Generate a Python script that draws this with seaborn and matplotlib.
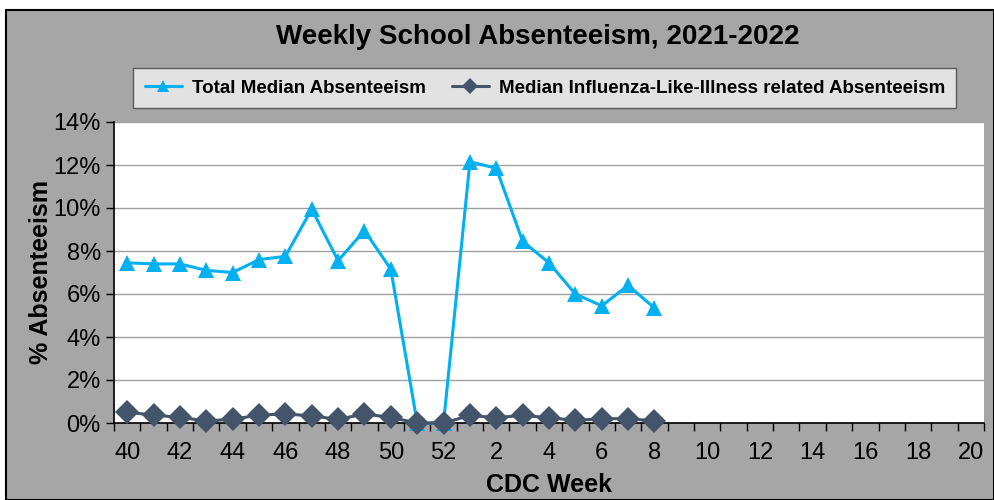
import numpy as np
import pandas as pd
import matplotlib
matplotlib.use("Agg")
import matplotlib.pyplot as plt
import seaborn as sns
from matplotlib.patches import Rectangle
from matplotlib.ticker import FixedLocator, PercentFormatter

# CDC weeks on the axis (season runs 40..52 then 1..20)
weeks = list(range(40, 53)) + list(range(1, 21))

# weeks that have data
data_weeks = list(range(40, 53)) + list(range(1, 9))
total_absent = [7.45, 7.4, 7.4, 7.1, 7.0, 7.6, 7.75, 9.95, 7.55, 8.95, 7.15,
                0.0, 0.0, 12.15, 11.85, 8.45, 7.45, 6.0, 5.45, 6.4, 5.35]
ili_absent = [0.5, 0.37, 0.26, 0.1, 0.17, 0.37, 0.42, 0.33, 0.17, 0.42, 0.26,
              0.0, 0.0, 0.35, 0.25, 0.35, 0.25, 0.12, 0.2, 0.2, 0.1]

series_names = ["Total Median Absenteeism",
                "Median Influenza-Like-Illness related Absenteeism"]

TOTAL_C = "#00B0F0"
ILI_C = "#44546A"
BG = "#A6A6A6"

pos = {w: i for i, w in enumerate(weeks)}
df = pd.DataFrame({
    "pos": [pos[w] for w in data_weeks] * 2,
    "value": total_absent + ili_absent,
    "series": [series_names[0]] * len(data_weeks) + [series_names[1]] * len(data_weeks),
})

sns.set_theme(style="white")
plt.rcParams["font.family"] = ["Liberation Sans", "DejaVu Sans"]
for key in ["text.color", "axes.labelcolor", "xtick.color", "ytick.color"]:
    plt.rcParams[key] = "black"

fig = plt.figure(figsize=(9.94, 5.0), dpi=100)
fig.patch.set_facecolor("white")
fig.patches.append(Rectangle((6 / 994, 0), 1 - 6 / 994, 1 - 10 / 500,
                             transform=fig.transFigure, facecolor=BG,
                             edgecolor="black", linewidth=1.5, zorder=-1))

ax = fig.add_axes([114 / 994, 77 / 500, 870 / 994, 301 / 500])
ax.set_facecolor("white")

sns.lineplot(data=df, x="pos", y="value", hue="series", style="series",
             palette=[TOTAL_C, ILI_C], markers=["^", "D"], dashes=False,
             markersize=12, linewidth=2.2, markeredgewidth=0, ax=ax,
             legend=True)
for line in ax.lines:
    line.set_clip_on(False)
    line.set_zorder(3)

ax.set_xlim(-0.5, len(weeks) - 0.5)
ax.set_ylim(0, 14)
ax.yaxis.set_major_locator(FixedLocator(np.arange(0, 15, 2)))
ax.yaxis.set_major_formatter(PercentFormatter(decimals=0))
ax.grid(axis="y", color="#A0A0A0", linewidth=1)
ax.grid(axis="x", visible=False)

# Excel style: tick marks between categories, labels every other week
ax.set_xticks(np.arange(len(weeks) + 1) - 0.5)
ax.set_xticklabels([])
ax.set_xticks(np.arange(0, len(weeks), 2), minor=True)
ax.set_xticklabels([str(w) for w in weeks[::2]], minor=True)
ax.tick_params(axis="x", which="major", direction="out", length=6, width=1, color="black")
ax.tick_params(axis="x", which="minor", length=0, pad=14, labelsize=17)
ax.tick_params(axis="y", direction="out", length=6, width=1, color="black", labelsize=17)
ax.tick_params(bottom=True, left=True)

for side in ["top", "right"]:
    ax.spines[side].set_visible(False)
for side in ["left", "bottom"]:
    ax.spines[side].set_color("black")
    ax.spines[side].set_linewidth(1.2)

ax.set_xlabel("CDC Week", fontsize=18, fontweight="bold", labelpad=6)
ax.set_ylabel("% Absenteeism", fontsize=18, fontweight="bold", labelpad=0)

fig.suptitle("Weekly School Absenteeism, 2021-2022", x=0.541, y=0.952,
             fontsize=20, fontweight="bold")

handles, labels = ax.get_legend_handles_labels()
leg = fig.legend(handles, labels, loc="center", bbox_to_anchor=(0.548, 0.824),
                 ncol=2, frameon=True, fancybox=False,
                 prop={"weight": "bold", "size": 13.5}, handlelength=2.0,
                 markerscale=0.7, handletextpad=0.5,
                 columnspacing=1.4, borderpad=0.6)
leg.get_frame().set_facecolor("#F2F2F2")
leg.get_frame().set_edgecolor("#404040")
ax.get_legend().remove()

fig.savefig("out.png", dpi=100, facecolor=fig.get_facecolor())
